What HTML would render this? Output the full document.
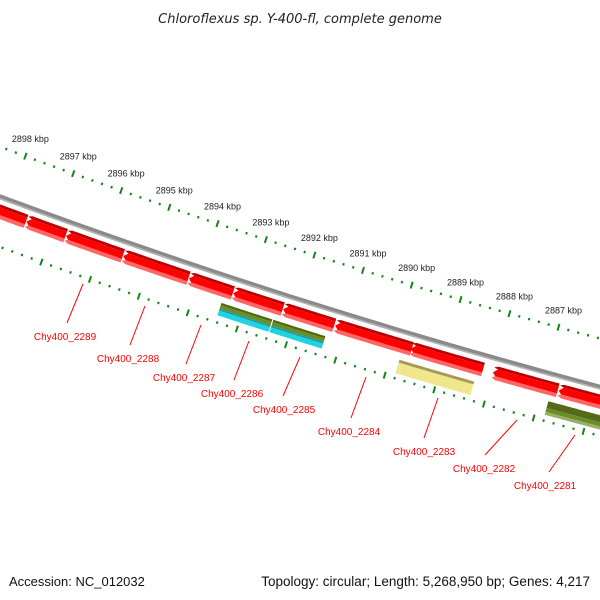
<!DOCTYPE html>
<html><head><meta charset="utf-8"><style>
html,body{margin:0;padding:0;background:#fff;}
svg{display:block;font-family:"Liberation Sans",sans-serif;}
</style></head><body>
<svg id="map" width="600" height="600" viewBox="0 0 600 600" xmlns="http://www.w3.org/2000/svg">
<text x="300" y="23" text-anchor="middle" font-size="13" font-style="italic" fill="#222" style="font-family:'DejaVu Sans',sans-serif">Chloroflexus sp. Y-400-fl, complete genome</text>
<text x="9" y="586" font-size="13" fill="#111">Accession: NC_012032</text>
<text x="590" y="586" text-anchor="end" font-size="13.5" fill="#111">Topology: circular; Length: 5,268,950 bp; Genes: 4,217</text>
<g id="rings"></g><g id="genes"></g><g id="labels"></g>
</svg>
<script>
const tickKbp=[2898,2897,2896,2895,2894,2893,2892,2891,2890,2889,2888,2887];
const redStarts=[2898.3,2897.54,2896.72,2895.54,2894.19,2893.28,2892.26,2891.2,2889.66,2888.0,2886.67];
const redEnds=[2897.55,2896.73,2895.55,2894.2,2893.29,2892.27,2891.22,2889.64,2888.2,2886.69,2885.6];
const laneStarts=[2893.44,2893.44,2892.38,2892.38,2889.81,2886.81];
const laneEnds=[2892.40,2892.40,2891.32,2891.32,2888.3,2885.6];
const laneTypes=['green-top','cyan-bottom','green-top','cyan-bottom','yellow','green'];
const geneNames=['Chy400_2289','Chy400_2288','Chy400_2287','Chy400_2286','Chy400_2285','Chy400_2284','Chy400_2283','Chy400_2282','Chy400_2281'];
const NS='http://www.w3.org/2000/svg';
const CX=2293,CY=-5992,R=6600;
function phi(k){return 0.3145+(k-2893)*0.00777;}
function pt(k,r){const p=phi(k);return [CX-r*Math.sin(p),CY+r*Math.cos(p)];}
function band(k1,k2,r1,r2,arrow){
  const n=20,a=[],b=[];
  const d=arrow?0.08:0;
  const hi=Math.max(k1,k2),lo=Math.min(k1,k2);
  for(let i=0;i<=n;i++){const k=lo+(hi-d-lo)*i/n;a.push(pt(k,r1));b.push(pt(k,r2));}
  const pts=a.slice();
  if(arrow)pts.push(pt(hi,(r1+r2)/2));
  pts.push(...b.reverse());
  return pts.map(p=>p[0].toFixed(1)+','+p[1].toFixed(1)).join(' ');
}
function poly(parent,points,fill,name){
  const el=document.createElementNS(NS,'polygon');
  el.setAttribute('points',points);el.setAttribute('fill',fill);
  
  
  parent.appendChild(el);return el;
}
const rings=document.getElementById('rings'),genes=document.getElementById('genes'),labels=document.getElementById('labels');
poly(rings,band(2885,2899.5,R-2.5,R+1,false),'#8a8a8a','backbone');
poly(rings,band(2885,2899.5,R+1,R+2.5,false),'#b0b0b0','backbone-shadow');
function ticks(r,name){
  for(let k=2899.4;k>=2885;k-=0.2){
    const kk=Math.round(k*5)/5;
    const major=Math.abs(kk-Math.round(kk))<0.01;
    const len=major?3.5:1.2;
    const p1=pt(kk,r-len),p2=pt(kk,r+len);
    const l=document.createElementNS(NS,'line');
    l.setAttribute('x1',p1[0]);l.setAttribute('y1',p1[1]);l.setAttribute('x2',p2[0]);l.setAttribute('y2',p2[1]);
    l.setAttribute('stroke','#118811');l.setAttribute('stroke-width',2);
    
    
    rings.appendChild(l);
  }
}
ticks(R-47,'outer-ring');
ticks(R+47,'inner-ring');
tickKbp.forEach(k=>{
  const p=pt(k,R-47);
  const t=document.createElementNS(NS,'text');
  t.setAttribute('x',p[0]+5);t.setAttribute('y',p[1]-14);
  t.setAttribute('text-anchor','middle');t.setAttribute('font-size','9');t.setAttribute('fill','#222');
  t.textContent=k+' kbp';
  
  
  labels.appendChild(t);
});
redStarts.forEach((s,i)=>{
  const e=redEnds[i];
  poly(genes,band(e,s,R+7,R+10,true),'#c00000','red-gene-top');
  poly(genes,band(e,s,R+10,R+18,true),'#ff0000','red-gene-'+i);
  poly(genes,band(e,s,R+17,R+21,true),'#ff6666','red-gene-bottom');
});
laneStarts.forEach((s,i)=>{
  const e=laneEnds[i],t=laneTypes[i];
  if(t==='green-top'){
    poly(genes,band(e,s,R+27,R+29.5,false),'#4f6a12','green-gene-edge');
    poly(genes,band(e,s,R+29.5,R+33,false),'#6b8e23','green-gene');
  }else if(t==='cyan-bottom'){
    poly(genes,band(e,s,R+33,R+35,false),'#1a9ca8','cyan-gene-edge');
    poly(genes,band(e,s,R+35,R+40,false),'#20d3e0','cyan-gene');
  }else if(t==='yellow'){
    poly(genes,band(e,s,R+28,R+31,false),'#a89a55','yellow-gene-edge');
    poly(genes,band(e,s,R+31,R+42,false),'#f0e68c','yellow-gene');
  }else{
    poly(genes,band(e,s,R+27,R+34,false),'#556b1a','green-gene-edge');
    poly(genes,band(e,s,R+34,R+38,false),'#6b8e23','green-gene');
    poly(genes,band(e,s,R+38,R+41,false),'#9aac6a','green-gene-bottom');
  }
});
const ann=[[83,284,67,323,65,340],[145,306,130,345,128,362],[201,325,186,364,184,381],[249,341,234,380,232,397],[300,357,283,396,284,413],[366,377,351,418,349,435],[438,398,424,438,424,455],[517,420,485,455,484,472],[575,435,549,472,545,489]];
geneNames.forEach((n,i)=>{
  const a=ann[i];
  const l=document.createElementNS(NS,'line');
  l.setAttribute('x1',a[0]);l.setAttribute('y1',a[1]);l.setAttribute('x2',a[2]);l.setAttribute('y2',a[3]);
  l.setAttribute('stroke','#ff0000');l.setAttribute('stroke-width','1');
  
  
  labels.appendChild(l);
  const t=document.createElementNS(NS,'text');
  t.setAttribute('x',a[4]);t.setAttribute('y',a[5]);t.setAttribute('text-anchor','middle');
  t.setAttribute('font-size','10');t.setAttribute('fill','#ff0000');
  t.textContent=n;
  
  
  labels.appendChild(t);
});
</script>
</body></html>
